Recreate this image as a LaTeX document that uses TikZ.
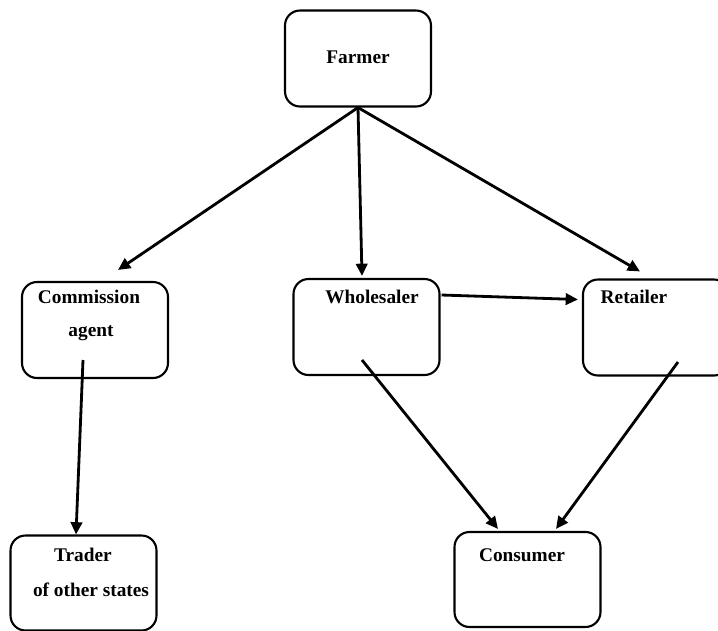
\documentclass[tikz,border=0pt]{standalone}
\usepackage{fontspec}
\setmainfont{Liberation Serif}
\usetikzlibrary{arrows.meta, positioning, calc}
\tikzset{
  market/.style={
	x=0.02cm, y=-0.02cm, % one unit is one pixel of the sketch
	>={Triangle[length=7pt, width=6.5pt]}, % solid arrow heads
	every node/.style={font=\bfseries\fontsize{11}{13}\selectfont},
  },
  box/.style={draw, line width=1.2pt, rounded corners=8.5pt, minimum width=2.92cm, minimum height=1.92cm, inner sep=0pt},
  lbl/.style={inner sep=1pt},
  link/.style={->, line width=1.6pt},
}

\begin{document}
\begin{tikzpicture}[market]
\useasboundingbox (0,0) rectangle (718,630);
\clip (0,0) rectangle (718,630);

% boxes
\node[box] (farmer) at (358,58.5) {};
\node[box] (comm) at (95,330) {};
\node[box] (whole) at (366.5,327) {};
\node[box] (retail) at (656,327.5) {};
\node[box, minimum height=1.9cm] (trader) at (83.5,583) {};
\node[box, minimum height=1.9cm] (cons) at (527.5,579.5) {};

% texts
\node[lbl] (farmertext) at (358,57) {Farmer};
\node[lbl] (commtext) at (89,297) {Commission};
\node[lbl] (agenttext) at (91,333) {agent};
\node[lbl] (wholetext) at (372,297) {Wholesaler};
\node[lbl] (retailtext) at (634,297) {Retailer};
\node[lbl] (tradertext) at (83,555) {Trader};
\node[lbl] (statestext) at (91,590) {of other states};
\node[lbl] (constext) at (522,555) {Consumer};

% arrows
\draw[link] (farmer.south) -- ($(comm.north)+(23,-11)$);
\draw[link] (farmer.south) -- ($(whole.north)+(-4.5,-2)$);
\draw[link] (farmer.south) -- ($(retail.north)+(-16,-7)$);
\draw[link] ($(comm.center)+(-12,30)$) -- ($(trader.north)+(-7.5,0)$);
\draw[link] ($(whole.east)+(1,-32)$) -- ($(retail.west)+(-4,-28)$);
\draw[link] ($(whole.center)+(-4.5,33)$) -- ($(cons.north)+(-29.5,-2)$);
\draw[link] ($(retail.center)+(22,34.5)$) -- ($(cons.north)+(28.5,-2)$);
\end{tikzpicture}
\end{document}
